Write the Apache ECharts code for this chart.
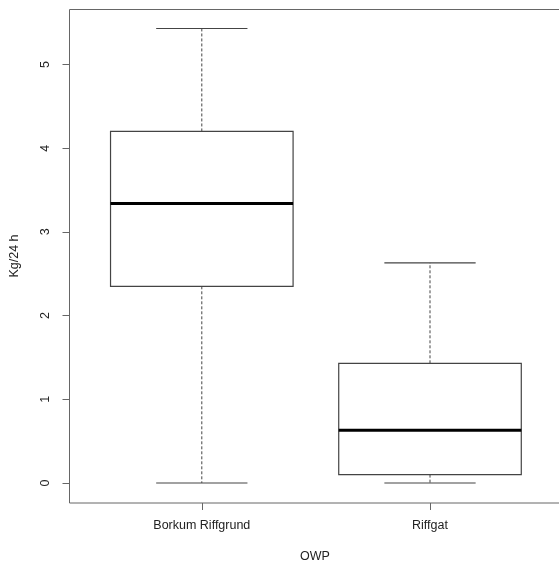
<!DOCTYPE html>
<html>
<head>
<meta charset="utf-8">
<script src="https://cdn.jsdelivr.net/npm/echarts@6/dist/echarts.min.js"></script>
<style>html,body{margin:0;padding:0;background:#fff}#c{width:559px;height:567px}</style>
</head>
<body>
<div id="c"></div>
<script>
var categories = ['Borkum Riffgrund', 'Riffgat'];
var whiskerLow = [0, 0];
var quartile1 = [2.35, 0.10];
var medians = [3.34, 0.63];
var quartile3 = [4.20, 1.43];
var whiskerHigh = [5.43, 2.63];
var yTicks = [0, 1, 2, 3, 4, 5];
var xTicks = [1, 2];

var chart = echarts.init(document.getElementById('c'), null, {renderer: 'canvas'});
var FONT = 'Liberation Sans, Arial, sans-serif';
var lineCol = '#444';

var data = categories.map(function (c, i) {
  return [i + 1, whiskerLow[i], quartile1[i], medians[i], quartile3[i], whiskerHigh[i]];
});

function renderItem(params, api) {
  var pos = api.value(0);
  var band = api.size([1, 0])[0];
  var bw = band * 0.8;
  var cw = bw * 0.5;
  var pLow = api.coord([pos, api.value(1)]);
  var pQ1 = api.coord([pos, api.value(2)]);
  var pMed = api.coord([pos, api.value(3)]);
  var pQ3 = api.coord([pos, api.value(4)]);
  var pHigh = api.coord([pos, api.value(5)]);
  var x = pMed[0];
  var dash = {stroke: lineCol, lineWidth: 1, lineDash: [3, 2]};
  var solid = {stroke: lineCol, lineWidth: 1.2};
  return {
    type: 'group',
    children: [
      {type: 'line', shape: {x1: x, y1: pQ3[1], x2: x, y2: pHigh[1]}, style: dash},
      {type: 'line', shape: {x1: x, y1: pQ1[1], x2: x, y2: pLow[1]}, style: dash},
      {type: 'line', shape: {x1: x - cw / 2, y1: pHigh[1], x2: x + cw / 2, y2: pHigh[1]}, style: solid},
      {type: 'line', shape: {x1: x - cw / 2, y1: pLow[1], x2: x + cw / 2, y2: pLow[1]}, style: solid},
      {type: 'rect', shape: {x: x - bw / 2, y: pQ3[1], width: bw, height: pQ1[1] - pQ3[1]},
        style: {fill: '#fff', stroke: lineCol, lineWidth: 1.2}},
      {type: 'line', shape: {x1: x - bw / 2, y1: pMed[1], x2: x + bw / 2, y2: pMed[1]},
        style: {stroke: '#000', lineWidth: 3}}
    ]
  };
}

var option = {
  backgroundColor: '#fff',
  animation: false,
  grid: [
    {left: 69.5, top: 9.5, width: 494, height: 493.5, show: true, borderColor: '#666', borderWidth: 1,
      backgroundColor: 'transparent', containLabel: false, outerBoundsMode: 'none'}
  ],
  xAxis: [
    {type: 'value', min: 0.4202, max: 2.585,
      axisLine: {show: false, onZero: false},
      axisTick: {show: true, length: 7, customValues: xTicks, lineStyle: {color: '#666'}},
      axisLabel: {margin: 16, color: '#222', fontSize: 12.5, fontFamily: FONT, customValues: xTicks,
        formatter: function (v) { return categories[Math.round(v) - 1] || ''; }},
      splitLine: {show: false}}
  ],
  yAxis: [
    {type: 'value', min: -0.239, max: 5.657,
      axisLine: {show: false, onZero: false},
      axisTick: {show: true, length: 7, customValues: yTicks, lineStyle: {color: '#666'}},
      axisLabel: {rotate: 90, margin: 17, color: '#222', fontSize: 12.5, fontFamily: FONT, customValues: yTicks},
      splitLine: {show: false}}
  ],
  series: [{
    type: 'custom',
    clip: false,
    renderItem: renderItem,
    encode: {x: 0, y: [1, 2, 3, 4, 5]},
    data: data
  }],
  graphic: [
    {type: 'text', x: 315, y: 557, style: {text: 'OWP', fill: '#222', font: '12.5px ' + FONT, align: 'center', verticalAlign: 'middle'}},
    {type: 'text', x: 15, y: 256, rotation: Math.PI / 2, style: {text: 'Kg/24 h', fill: '#222', font: '12.5px ' + FONT, align: 'center', verticalAlign: 'middle'}}
  ]
};
chart.setOption(option);
</script>
</body>
</html>
